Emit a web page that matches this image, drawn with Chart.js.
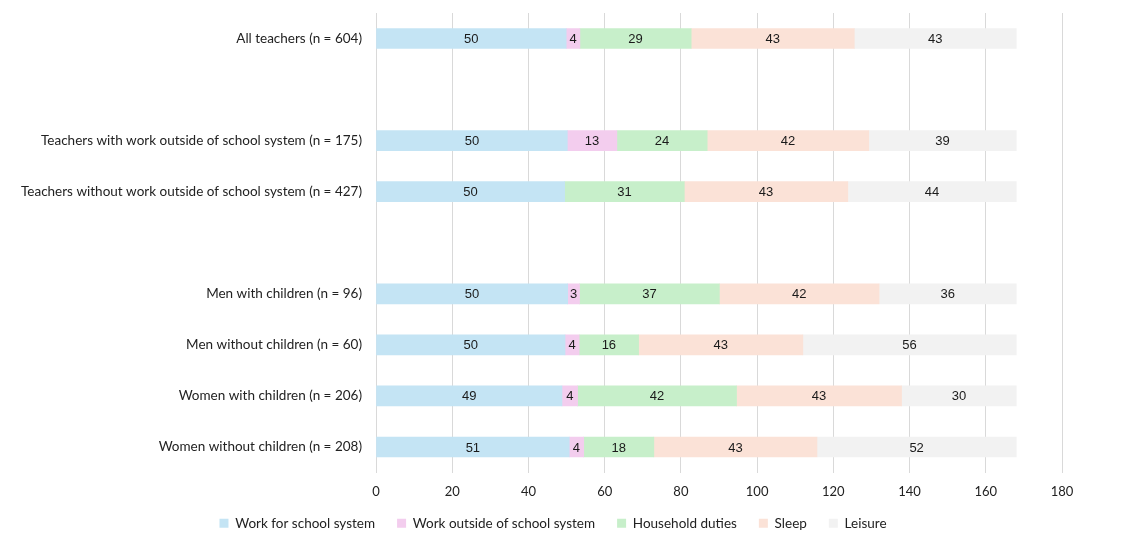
<!DOCTYPE html>
<html>
<head>
<meta charset="utf-8">
<script src="https://cdn.jsdelivr.net/npm/chart.js@4/dist/chart.umd.min.js"></script>
<style>
  html, body { margin: 0; padding: 0; background: #fff; }
  #wrap { width: 1140px; height: 554px; }
</style>
</head>
<body>
<div id="wrap"><canvas id="resultPlot"></canvas></div>
<script>
// hours per week, blank rows separate the groups
var groups = [
    'All teachers (n = 604)',
    '',
    'Teachers with work outside of school system (n = 175)',
    'Teachers without work outside of school system (n = 427)',
    ' ',
    'Men with children (n = 96)',
    'Men without children (n = 60)',
    'Women with children (n = 206)',
    'Women without children (n = 208)'
];
var schoolWork  = [49.9, null, 50.2, 49.5, null, 50.3, 49.6, 48.8, 50.7];
var outsideWork = [3.6,  null, 13.0, null, null, 3.1,  3.7,  4.1,  3.8];
var household   = [29.2, null, 23.7, 31.4, null, 36.7, 15.6, 41.7, 18.4];
var sleep       = [42.8, null, 42.4, 42.9, null, 41.9, 43.1, 43.3, 42.8];
var leisure     = [42.5, null, 38.7, 44.2, null, 36.0, 56.0, 30.1, 52.3];
var xTicks = [0, 20, 40, 60, 80, 100, 120, 140, 160, 180];

var legends = ['Work for school system', 'Work outside of school system', 'Household duties', 'Sleep', 'Leisure'];
var colrs = ['#c4e4f4', '#f3cdee', '#c7efca', '#fbe2d7', '#f2f2f2'];

/**
 * write the rounded value in the middle of every segment
 */
var segmentLabels = {
    id: 'segmentLabels',
    afterDatasetsDraw: function(chart){
        let ctx = chart.ctx;
        ctx.save();
        ctx.font = '13px "Liberation Sans", Arial, sans-serif';
        ctx.fillStyle = '#1a1a1a';
        ctx.textAlign = 'center';
        ctx.textBaseline = 'middle';
        chart.data.datasets.forEach(function(ds, i){
            let meta = chart.getDatasetMeta(i);
            meta.data.forEach(function(bar, j){
                let v = ds.data[j];
                if (v === null || v === undefined) return;
                let cx = (bar.x + bar.base) / 2;
                ctx.fillText(Math.round(v), cx, bar.y + 1);
            });
        });
        ctx.restore();
    }
};

/**
 * nudge the legend a bit right and up, like the original
 */
var legendShift = {
    id: 'legendShift',
    afterLayout: function(chart){
        let lg = chart.legend;
        lg.left += 22; lg.right += 22;
        lg.top -= 12; lg.bottom -= 12;
    }
};

function draw(){
    let plotArea = document.getElementById('resultPlot');
    let values = [schoolWork, outsideWork, household, sleep, leisure];
    let chartObject = {};
    chartObject['type'] = 'bar';
    chartObject['data'] = {labels: groups, datasets: []};
    for (let i = 0; i < values.length; i++){
        chartObject['data']['datasets'].push({
            label: legends[i],
            data: values[i],
            backgroundColor: colrs[i],
            borderWidth: 0,
            barThickness: 20
        });
    }
    chartObject['options'] = {
        indexAxis: 'y',
        responsive: true,
        maintainAspectRatio: false,
        animation: false,
        layout: {padding: {top: 13, right: 78, bottom: 2, left: 0}},
        scales: {
            x: {
                stacked: true,
                min: 0,
                max: 180,
                afterBuildTicks: function(s){ s.ticks = xTicks.map(function(v){ return {value: v}; }); },
                afterFit: function(s){ s.height = 34; s.paddingLeft = 0; s.paddingRight = 0; },
                border: {display: false},
                grid: {color: '#d9d9d9', lineWidth: 1, drawTicks: false},
                ticks: {padding: 12, color: '#222', font: {family: 'Lato', size: 13}}
            },
            y: {
                stacked: true,
                afterFit: function(s){ s.width = 376; s.paddingTop = 0; s.paddingBottom = 0; },
                border: {display: false},
                grid: {display: false, drawTicks: false},
                ticks: {padding: 14, color: '#222', font: {family: 'Lato', size: 13.5}}
            }
        },
        plugins: {
            legend: {
                position: 'bottom',
                labels: {
                    boxWidth: 9,
                    boxHeight: 9,
                    padding: 22,
                    color: '#222',
                    font: {family: 'Lato', size: 13.5}
                }
            },
            tooltip: {enabled: false}
        }
    };
    chartObject['plugins'] = [segmentLabels, legendShift];
    plot = new Chart(plotArea, chartObject);
}

draw();
</script>
</body>
</html>
